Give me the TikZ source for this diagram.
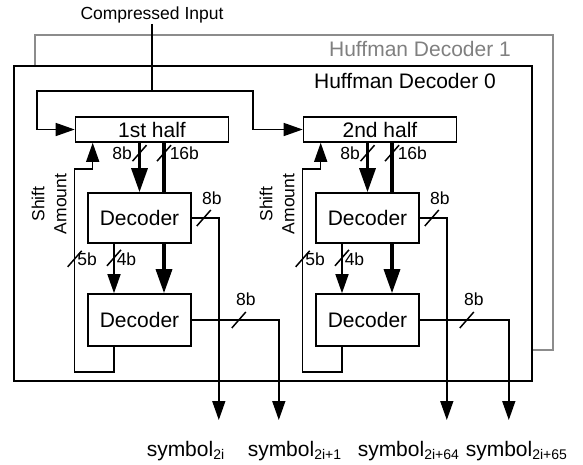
\documentclass[tikz,border=0pt]{standalone}
\usepackage{fontspec}
\setmainfont{Liberation Sans}
\usetikzlibrary{arrows.meta,calc}
\newcommand\subtxt[1]{\raisebox{-3pt}{\fontsize{14}{14}\selectfont #1}}
\tikzset{
  big/.style={font=\fontsize{21}{25}\selectfont},
  sml/.style={font=\fontsize{17.5}{21}\selectfont, inner sep=0pt},
  blk/.style={draw, line width=1.6pt, fill=white, inner sep=0pt, big},
  thk/.style={line width=3.3pt},
  tharrow/.style={-{Triangle[length=19pt,width=13pt]}},
  thkarrow/.style={thk, -{Triangle[length=24pt,width=16pt]}},
  busmark/.style={line width=1.5pt},
}
\begin{document}
\begin{tikzpicture}[x=1pt,y=-1pt,line width=1.5pt]
\useasboundingbox (0,0) rectangle (583,464);
% Huffman decoder 1 (behind)
\node[draw=black!45, line width=1.5pt, minimum width=518pt, minimum height=315pt, inner sep=0pt] (hdb) at (294,192.5) {};
\node[big, text=black!50, inner sep=0pt] (hdbt) at (420,49) {Huffman Decoder 1};
% Huffman decoder 0
\node[draw, fill=white, line width=1.5pt, minimum width=518pt, minimum height=315pt, inner sep=0pt] (hda) at (273,223.5) {};
\node[big, inner sep=0pt] (hdat) at (405,81) {Huffman Decoder 0};
% input
\node[sml] (ci) at (152,15) {Compressed Input};
\coordinate (split) at (152,91);
\coordinate (la) at (37,91);
\coordinate (lb) at (253,91);
% columns
\foreach \c/\dx/\ox/\nm in {a/0/87/1st half, b/228/89/2nd half}{
  \node[blk, minimum width=153pt, minimum height=25pt] (h\c) at (152+\dx,129.5) {\nm};
  \node[blk, minimum width=103pt, minimum height=50pt] (d\c) at (139.5+\dx,218) {Decoder};
  \node[blk, minimum width=103pt, minimum height=52pt] (e\c) at (139.5+\dx,320) {Decoder};
  \node[sml, rotate=90, align=center, font=\fontsize{17.5}{22}\selectfont] (sa\c) at (49+\dx,204) {Shift\\Amount};
  % 8b into decoder
  \draw[thkarrow] (d\c.north |- h\c.south) -- (d\c.north);
  \draw[busmark] ($(d\c.north)+(-7,-31)$) -- ($(d\c.north)+(7,-47)$);
  \node[sml, anchor=east] (l8\c) at ($(d\c.north)+(-7,-39)$) {8b};
  % 16b
  \coordinate (s\c) at ($(d\c.north)+(24.5,0)$);
  \draw[thk] (s\c |- h\c.south) -- (s\c);
  \draw[busmark] ($(s\c)+(-7,-31)$) -- ($(s\c)+(7,-47)$);
  \node[sml, anchor=west] (l16\c) at ($(s\c)+(5,-39)$) {16b};
  % 4b
  \coordinate (f\c) at ($(d\c.south)+(-25.5,0)$);
  \draw[tharrow] (f\c) -- (f\c |- e\c.north);
  \draw[busmark] ($(f\c)+(-7,22)$) -- ($(f\c)+(7,6)$);
  \node[sml, anchor=west] (l4\c) at ($(f\c)+(2,15)$) {4b};
  % thick to second decoder
  \coordinate (g\c) at ($(d\c.south)+(24.5,0)$);
  \draw[thkarrow] (g\c) -- (g\c |- e\c.north);
  % shift amount loop
  \coordinate (k\c) at ($(e\c.south)+(-25.5,0)$);
  \coordinate (m\c) at ($(k\c)+(0,25)$);
  \coordinate (u\c) at ($(h\c.south west)+(18,26)$);
  \coordinate (v\c) at ($(u\c)+(-18,0)$);
  \draw[tharrow] (k\c) -- (m\c) -| (v\c) -- (u\c) -- (u\c |- h\c.south);
  \draw[busmark] ($(v\c)+(-7,98)$) -- ($(v\c)+(7,82)$);
  \node[sml, anchor=west] (l5\c) at ($(v\c)+(2,90)$) {5b};
  % outputs
  \coordinate (o1\c) at ($(d\c.east)+(27,202)$);
  \draw[tharrow] (d\c.east) -| (o1\c);
  \draw[busmark] ($(d\c.east)+(5,8)$) -- ($(d\c.east)+(19,-8)$);
  \node[sml] (lo1\c) at ($(d\c.east)+(20,-20)$) {8b};
  \coordinate (o2\c) at ($(e\c.east)+(\ox,100)$);
  \draw[tharrow] (e\c.east) -| (o2\c);
  \draw[busmark] ($(e\c.east)+(40,8)$) -- ($(e\c.east)+(54,-8)$);
  \node[sml] (lo2\c) at ($(e\c.east)+(54,-21)$) {8b};
}
% input wiring
\draw (ci) -- (split);
\draw[tharrow] (split) -- (la) |- (ha.west);
\draw[tharrow] (split) -- (lb) |- (hb.west);
% output labels
\node[big, anchor=base west, inner sep=0pt] (y1) at (146,456) {symbol\subtxt{2i}};
\node[big, anchor=base west, inner sep=0pt] (y2) at (247,456) {symbol\subtxt{2i+1}};
\node[big, anchor=base west, inner sep=0pt] (y3) at (357,456) {symbol\subtxt{2i+64}};
\node[big, anchor=base west, inner sep=0pt] (y4) at (465,456) {symbol\subtxt{2i+65}};
\end{tikzpicture}
\end{document}
